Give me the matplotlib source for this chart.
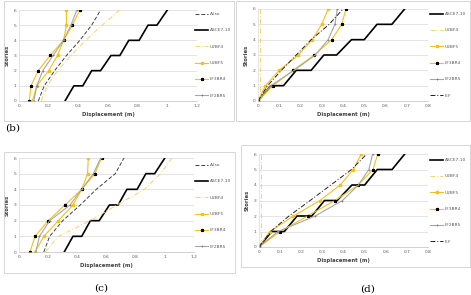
import matplotlib
matplotlib.use('Agg')
import matplotlib.pyplot as plt
from matplotlib.patches import Rectangle

W, H = 471, 295

stories = [0, 1, 2, 3, 4, 5, 6]
step_stories = [0, 1, 1, 2, 2, 3, 3, 4, 4, 5, 5, 6]

# ASCE7-10 step curves
asce_disp = [0.31, 0.37, 0.43, 0.49, 0.55, 0.62, 0.68, 0.74, 0.81, 0.87, 0.93, 1.0]
asce_drift = [0, 0.06, 0.12, 0.18, 0.25, 0.31, 0.37, 0.44, 0.50, 0.56, 0.63, 0.69]

# top left panel - label (b)
a_iso_tl = [0.13, 0.17, 0.24, 0.32, 0.41, 0.49, 0.55]
u2bf4_tl = [0.15, 0.19, 0.26, 0.35, 0.45, 0.56, 0.68]
u2bf5_tl = [0.09, 0.12, 0.20, 0.26, 0.30, 0.32, 0.32]
lf3br4_tl = [0.07, 0.08, 0.13, 0.21, 0.30, 0.36, 0.41]
lf2br5_tl = [0.10, 0.12, 0.16, 0.23, 0.30, 0.35, 0.39]

# top right panel
u2bf4_tr = [0.008, 0.008, 0.008, 0.008, 0.008, 0.008, 0.008]
u2bf5_tr = [0, 0.035, 0.10, 0.19, 0.255, 0.30, 0.33]
lf3br4_tr = [0, 0.07, 0.165, 0.265, 0.347, 0.394, 0.414]
lf2br5_tr = [0, 0.06, 0.17, 0.27, 0.33, 0.362, 0.373]
ef_tr = [0, 0.045, 0.11, 0.18, 0.25, 0.335, 0.40]

# bottom left panel - label (c)
a_iso_bl = [0.17, 0.21, 0.30, 0.42, 0.53, 0.66, 0.72]
u2bf4_bl = [0.18, 0.27, 0.49, 0.67, 0.86, 0.97, 1.05]
u2bf5_bl = [0.11, 0.17, 0.27, 0.37, 0.43, 0.47, 0.475]
lf3br4_bl = [0.075, 0.11, 0.20, 0.315, 0.43, 0.52, 0.566]
lf2br5_bl = [0.115, 0.14, 0.21, 0.35, 0.43, 0.51, 0.56]

# bottom right panel - label (d)
u2bf4_br = [0.008, 0.008, 0.008, 0.008, 0.008, 0.008, 0.008]
u2bf5_br = [0, 0.052, 0.163, 0.289, 0.384, 0.447, 0.484]
lf3br4_br = [0, 0.10, 0.23, 0.36, 0.47, 0.54, 0.562]
lf2br5_br = [0, 0.09, 0.266, 0.395, 0.47, 0.52, 0.538]
ef_br = [0, 0.055, 0.142, 0.242, 0.34, 0.438, 0.51]

ticks_wide = [0, 0.2, 0.4, 0.6, 0.8, 1, 1.2]
ticks_wide_lbl = ['0', '0.2', '0.4', '0.6', '0.8', '1', '1.2']
ticks_narrow = [0, 0.1, 0.2, 0.3, 0.4, 0.5, 0.6, 0.7, 0.8]
ticks_narrow_lbl = ['0', '0.1', '0.2', '0.3', '0.4', '0.5', '0.6', '0.7', '0.8']

YEL = '#F2C21B'
YEL_L = '#F3D36A'
GRY = '#A6A6A6'
DARK = '#404040'


def px_rect(x0, y0, x1, y1):
    return [x0 / W, 1 - y1 / H, (x1 - x0) / W, (y1 - y0) / H]


fig = plt.figure(figsize=(W / 100, H / 100), dpi=100)


def panel(box, axbox, leg_xy, xt, xtl, series):
    fig.patches.append(Rectangle((box[0] / W, 1 - box[3] / H),
                                 (box[2] - box[0]) / W, (box[3] - box[1]) / H,
                                 transform=fig.transFigure, fill=False,
                                 edgecolor='#D0D0D0', linewidth=0.6))
    ax = fig.add_axes(px_rect(*axbox))
    for s in series:
        kind, xs, ys = s
        if kind == 'A.Iso':
            ax.plot(xs, ys, color=DARK, ls=(0, (4, 2)), lw=0.7, label='A.Iso')
        elif kind == 'ASCE7-10':
            ax.plot(xs, ys, color='black', lw=1.2, label='ASCE7-10')
        elif kind == 'U2BF4':
            ax.plot(xs, ys, color=YEL_L, ls=(0, (5, 2, 1, 2)), lw=0.7, label='U2BF4')
        elif kind == 'U2BF5':
            ax.plot(xs, ys, color=YEL, lw=0.8, marker='s', ms=1.7, label='U2BF5')
        elif kind == 'LF3BR4':
            ax.plot(xs, ys, color=YEL, lw=0.8, marker='*', ms=2.1,
                    mfc='black', mec='black', label='LF3BR4')
        elif kind == 'LF2BR5':
            ax.plot(xs, ys, color=GRY, lw=0.8, marker='+', ms=2.0,
                    mec='#808080', mew=0.6, label='LF2BR5')
        elif kind == 'E.F':
            ax.plot(xs, ys, color='#202020', ls=(0, (5, 2, 1, 2)), lw=0.7, label='E.F')
    ax.set_xlim(xt[0], xt[-1])
    ax.set_ylim(0, 6)
    ax.set_xticks(xt)
    ax.set_xticklabels(xtl)
    ax.set_yticks(stories)
    ax.grid(axis='y', color='#D9D9D9', lw=0.5)
    ax.set_axisbelow(True)
    for sp in ['top', 'right']:
        ax.spines[sp].set_visible(False)
    ax.spines['left'].set_color('#D9D9D9')
    ax.spines['bottom'].set_color('#BFBFBF')
    ax.spines['left'].set_linewidth(0.5)
    ax.spines['bottom'].set_linewidth(0.5)
    ax.tick_params(length=0, labelsize=3.2, pad=2, colors='#595959')
    ax.set_xlabel('Displacement (m)', fontsize=3.8, fontweight='bold',
                  color='#404040', labelpad=3)
    ax.set_ylabel('Stories', fontsize=3.8, fontweight='bold', color='#404040',
                  labelpad=3)
    ax.legend(loc='upper left', bbox_to_anchor=(leg_xy[0] / W, 1 - leg_xy[1] / H),
              bbox_transform=fig.transFigure, frameon=False, fontsize=3.2,
              labelspacing=2.75, handlelength=3.0, handletextpad=0.3,
              borderpad=0, borderaxespad=0, labelcolor='#595959')
    return ax


panel((4, 1, 234, 121), (19, 10, 197, 101), (195, 12),
      ticks_wide, ticks_wide_lbl,
      [('A.Iso', a_iso_tl, stories), ('ASCE7-10', asce_disp, step_stories),
       ('U2BF4', u2bf4_tl, stories), ('U2BF5', u2bf5_tl, stories),
       ('LF3BR4', lf3br4_tl, stories), ('LF2BR5', lf2br5_tl, stories)])

panel((236, 1, 470, 121), (258, 9, 428, 101), (430, 12),
      ticks_narrow, ticks_narrow_lbl,
      [('ASCE7-10', asce_drift, step_stories), ('U2BF4', u2bf4_tr, stories),
       ('U2BF5', u2bf5_tr, stories), ('LF3BR4', lf3br4_tr, stories),
       ('LF2BR5', lf2br5_tr, stories), ('E.F', ef_tr, stories)])

panel((4, 152, 235, 273), (19, 158, 194, 252), (195, 163),
      ticks_wide, ticks_wide_lbl,
      [('A.Iso', a_iso_bl, stories), ('ASCE7-10', asce_disp, step_stories),
       ('U2BF4', u2bf4_bl, stories), ('U2BF5', u2bf5_bl, stories),
       ('LF3BR4', lf3br4_bl, stories), ('LF2BR5', lf2br5_bl, stories)])

panel((241, 145, 470, 267), (259, 154, 428, 247), (430, 158),
      ticks_narrow, ticks_narrow_lbl,
      [('ASCE7-10', asce_drift, step_stories), ('U2BF4', u2bf4_br, stories),
       ('U2BF5', u2bf5_br, stories), ('LF3BR4', lf3br4_br, stories),
       ('LF2BR5', lf2br5_br, stories), ('E.F', ef_br, stories)])

fig.text(5 / W, 1 - 128 / H, '(b)', fontsize=7.5, family='DejaVu Serif',
         va='center', ha='left')
fig.text(101 / W, 1 - 288 / H, '(c)', fontsize=7.5, family='DejaVu Serif',
         va='center', ha='center')
fig.text(368 / W, 1 - 289 / H, '(d)', fontsize=7.5, family='DejaVu Serif',
         va='center', ha='center')

fig.savefig('out.png', dpi=100)
